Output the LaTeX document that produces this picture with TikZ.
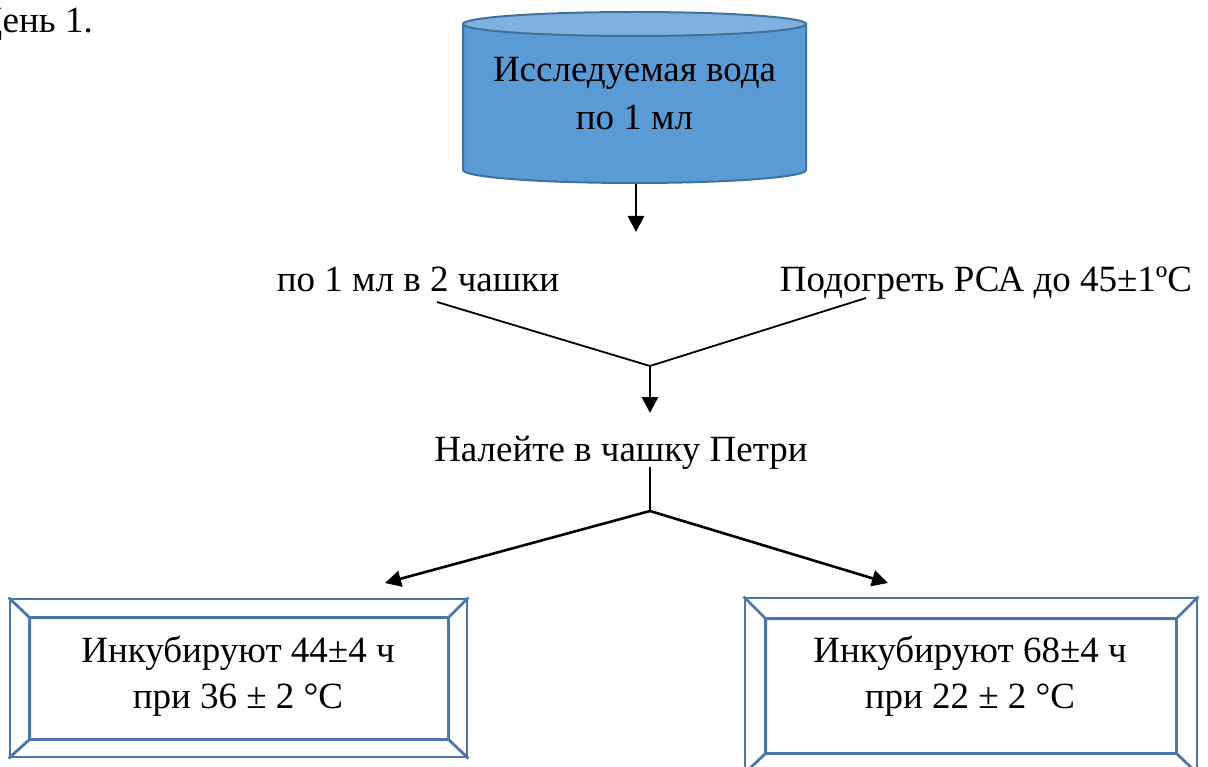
\documentclass[tikz,border=0pt]{standalone}
\usepackage{fontspec}
\setmainfont{Liberation Serif}
\usetikzlibrary{arrows.meta,calc}

\definecolor{cylbody}{HTML}{5B9BD5}
\definecolor{cyltop}{HTML}{7EB0E0}
\definecolor{cylline}{HTML}{41719C}
\definecolor{bevelline}{HTML}{4A76A8}

\tikzset{
  txt/.style={font=\fontsize{37}{46}\selectfont, inner sep=0pt, anchor=base},
  boxtxt/.style={font=\fontsize{37}{46}\selectfont, inner sep=0pt, align=center},
  flow/.style={line width=2.6pt, -{Triangle[length=16pt,width=16pt]}},
  joinline/.style={line width=1.8pt},
  bevel/.style={draw=bevelline, line width=2.8pt, fill=white},
}

\begin{document}
\begin{tikzpicture}[x=1pt,y=-1pt]
  \useasboundingbox (0,0) rectangle (1208,767);

  % heading
  \node[txt, anchor=base east] (day) at (93,33) {День 1.};

  % source cylinder
  \node[minimum width=343pt, minimum height=172pt, inner sep=0pt] (water) at (634.5,97.5) {};
  \fill[cylbody, draw=cylline, line width=2pt]
    (463,24) -- (463,170) arc[start angle=180, end angle=360, x radius=171.5pt, y radius=13pt]
    -- (806,24) -- cycle;
  \fill[cyltop, draw=cylline, line width=2pt] (634.5,24) ellipse[x radius=171.5pt, y radius=12pt];
  \node[boxtxt, font=\fontsize{37}{48}\selectfont] (watertxt) at (634.5,94) {Исследуемая вода\\по 1 мл};

  % step labels
  \node[txt] (dose) at (418,292) {по 1 мл в 2 чашки};
  \node[txt] (heat) at (986,292) {Подогреть РСА до 45±1ºС};
  \node[txt] (pour) at (621,461) {Налейте в чашку Петри};

  % connector points
  \coordinate (a1) at (636,232);
  \coordinate (doseend) at (437,302);
  \coordinate (heatend) at (866,298);
  \coordinate (merge) at (650,366);
  \coordinate (a2) at (650,413);
  \coordinate (pourend) at (650,467);
  \coordinate (fork) at (650,511);
  \coordinate (a3) at (385,583);
  \coordinate (a4) at (888,583);

  % incubation boxes
  \node[bevel, minimum width=457pt, minimum height=158pt, inner sep=0pt] (inc1) at (238.5,678) {};
  \draw[bevelline, line width=2.8pt]
    ($(inc1.north west)+(21,20)$) rectangle ($(inc1.south east)+(-20,-19)$)
    (inc1.north west) -- ++(21,20)
    (inc1.north east) -- ++(-20,20)
    (inc1.south west) -- ++(21,-19)
    (inc1.south east) -- ++(-20,-19);
  \node[boxtxt] (inc1txt) at (238,676) {Инкубируют 44±4 ч\\при 36 ± 2 °С};

  \node[bevel, minimum width=452pt, minimum height=175pt, inner sep=0pt] (inc2) at (971,685.5) {};
  \draw[bevelline, line width=2.8pt]
    ($(inc2.north west)+(22,22)$) rectangle ($(inc2.south east)+(-22,-21)$)
    (inc2.north west) -- ++(22,22)
    (inc2.north east) -- ++(-22,22)
    (inc2.south west) -- ++(22,-21)
    (inc2.south east) -- ++(-22,-21);
  \node[boxtxt] (inc2txt) at (970,676) {Инкубируют 68±4 ч\\при 22 ± 2 °С};

  % connectors
  \draw[flow] (water.south -| a1) -- (a1);
  \draw[joinline] (doseend) -- (merge) -- (heatend);
  \draw[flow] (merge) -- (a2);
  \draw[joinline, line width=2pt] (pourend) -- (fork);
  \draw[flow] (fork) -- (a3);
  \draw[flow] (fork) -- (a4);
\end{tikzpicture}
\end{document}
